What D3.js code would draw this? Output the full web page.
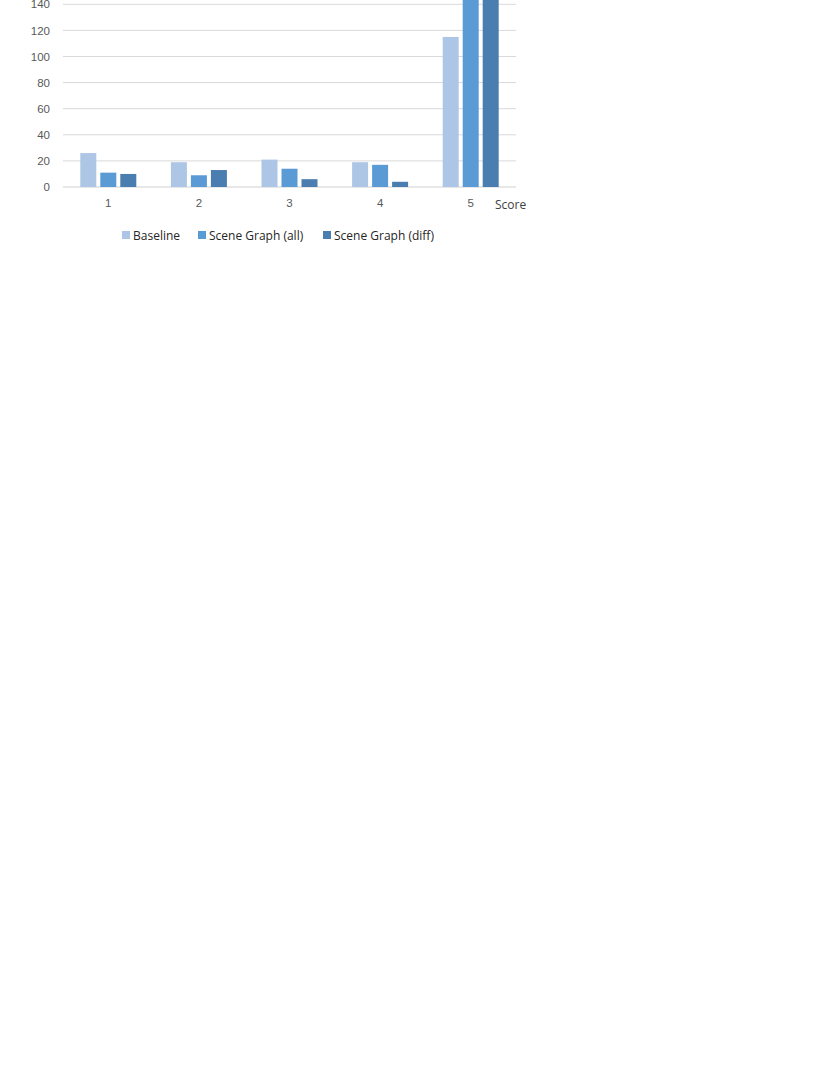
<!DOCTYPE html>
<html>
<head>
<meta charset="utf-8">
<script src="https://cdn.jsdelivr.net/npm/d3@7"></script>
<style>
  body { margin: 0; background: #fff; }
  svg { display: block; font-family: "Open Sans", "Noto Sans", sans-serif; }
</style>
</head>
<body>
<svg></svg>
<script>
const categories = ["1", "2", "3", "4", "5"];
const seriesNames = ["Baseline", "Scene Graph (all)", "Scene Graph (diff)"];
const baseline = [26, 19, 21, 19, 115];
const sgAll = [11, 9, 14, 17, 160];
const sgDiff = [10, 13, 6, 4, 158];
const yTicks = [0, 20, 40, 60, 80, 100, 120, 140];
const colors = ["#adc6e6", "#5b9bd5", "#4a7eb1"];

const width = 830, height = 1075;
const svg = d3.select("svg").attr("width", width).attr("height", height);

const left = 63, right = 516, bottom = 187;
const x = d3.scaleBand().domain(categories).range([left, right]);
const y = d3.scaleLinear().domain([0, 140]).range([bottom, 4.3]);
const inner = d3.scaleBand().domain(seriesNames).range([0, 56]).paddingInner(0.2);

const values = [baseline, sgAll, sgDiff];
const rows = categories.map((c, i) => ({ cat: c, vals: seriesNames.map((s, j) => ({ s, j, v: values[j][i] })) }));

// grid
svg.append("g")
  .selectAll("line")
  .data(yTicks)
  .join("line")
  .attr("x1", left).attr("x2", right)
  .attr("y1", d => y(d)).attr("y2", d => y(d))
  .attr("stroke", d => d === 0 ? "#d0d0d0" : "#d9d9d9")
  .attr("stroke-width", 1);

// y labels
const yAxis = svg.append("g")
  .attr("transform", `translate(${left},0)`)
  .call(d3.axisLeft(y).tickValues(yTicks).tickSize(0).tickPadding(13));
yAxis.select(".domain").remove();
yAxis.selectAll("text").attr("fill", "#595959").style("font-size", "11.5px").style("font-family", "inherit");

// bars
const groupOffset = (x.bandwidth() - 56) / 2;
svg.append("g")
  .selectAll("g")
  .data(rows)
  .join("g")
  .attr("transform", d => `translate(${x(d.cat) + groupOffset},0)`)
  .selectAll("rect")
  .data(d => d.vals)
  .join("rect")
  .attr("x", d => inner(d.s))
  .attr("width", inner.bandwidth())
  .attr("y", d => y(d.v))
  .attr("height", d => y(0) - y(d.v))
  .attr("fill", d => colors[d.j]);

// x labels
const xAxis = svg.append("g")
  .attr("transform", `translate(0,${bottom})`)
  .call(d3.axisBottom(x).tickSize(0).tickPadding(12));
xAxis.select(".domain").remove();
xAxis.selectAll("text").attr("fill", "#595959").style("font-size", "11.5px").style("font-family", "inherit");

svg.append("text")
  .attr("x", 495).attr("y", 209)
  .attr("fill", "#404040")
  .style("font-size", "12px")
  .text("Score");

// legend
const legendX = [122, 198, 323];
const legend = svg.append("g")
  .selectAll("g")
  .data(seriesNames)
  .join("g")
  .attr("transform", (d, i) => `translate(${legendX[i]},231)`);
legend.append("rect")
  .attr("width", 8).attr("height", 8)
  .attr("fill", (d, i) => colors[i]);
legend.append("text")
  .attr("x", 11).attr("y", 8.5)
  .attr("fill", "#262626")
  .style("font-size", "12px")
  .text(d => d);
</script>
</body>
</html>
